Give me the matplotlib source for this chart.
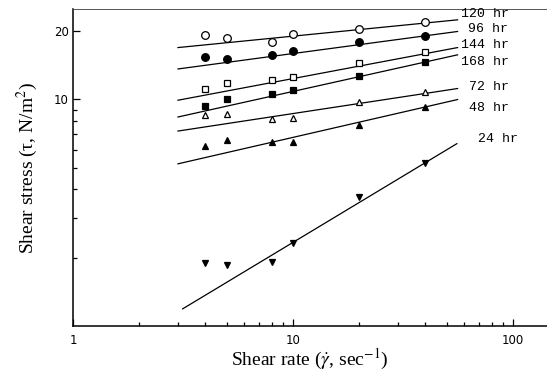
import numpy as np
import matplotlib
matplotlib.use('Agg')
import matplotlib.pyplot as plt
from matplotlib.ticker import FixedLocator, LogLocator, NullFormatter, FixedFormatter

plt.rcParams['mathtext.fontset'] = 'stix'

# shear rate (1/s) for the measured points
shear_rate = [4, 5, 8, 10, 20, 40]

# shear stress (N/m^2) per storage time
stress_120 = [19.2, 18.7, 17.9, 19.3, 20.4, 22.0]
stress_96 = [15.3, 15.0, 15.7, 16.3, 17.9, 19.0]
stress_144 = [11.1, 11.8, 12.2, 12.5, 14.4, 16.1]
stress_168 = [9.3, 10.0, 10.6, 11.0, 12.6, 14.6]
stress_72 = [8.5, 8.6, 8.2, 8.3, 9.7, 10.8]
stress_48 = [6.2, 6.6, 6.5, 6.5, 7.7, 9.2]
stress_24 = [1.9, 1.86, 1.91, 2.32, 3.72, 5.25]

# fitted power-law lines: shear rate range and stress at both ends
fit_rate = [3.0, 56.0]
fit_rate_24 = [3.15, 55.6]
fit_120 = [16.9, 22.4]
fit_96 = [13.6, 19.9]
fit_144 = [9.9, 16.9]
fit_168 = [8.35, 15.7]
fit_72 = [7.24, 11.15]
fit_48 = [5.19, 9.97]
fit_24 = [1.19, 6.37]

labels = ['120 hr', '96 hr', '144 hr', '168 hr', '72 hr', '48 hr', '24 hr']

series = [
    (stress_120, fit_rate, fit_120, 'o', 'white', (37, 4)),
    (stress_96, fit_rate, fit_96, 'o', 'black', (36, 2)),
    (stress_144, fit_rate, fit_144, 's', 'white', (37, 2)),
    (stress_168, fit_rate, fit_168, 's', 'black', (37, -5)),
    (stress_72, fit_rate, fit_72, '^', 'white', (37, 1)),
    (stress_48, fit_rate, fit_48, '^', 'black', (37, -6)),
    (stress_24, fit_rate_24, fit_24, 'v', 'black', (44, 3)),
]
marker_size = {'o': 5.5, 's': 4.5, '^': 4.5, 'v': 4.5}

fig = plt.figure(figsize=(5.47, 3.80), dpi=100)
ax = fig.add_axes([0.1335, 0.1421, 0.8665, 0.8342])
ax.set_xscale('log')
ax.set_yscale('log')

for (stress, frate, fit, mk, fc, off), lab in zip(series, labels):
    ax.plot(frate, fit, '-', color='black', lw=0.9)
    ax.plot(shear_rate, stress, linestyle='none', marker=mk, ms=marker_size[mk],
            mfc=fc, mec='black', mew=0.9)
    ax.annotate(lab, xy=(frate[1], fit[1]), xytext=off, textcoords='offset points',
                ha='right', va='center', fontsize=9.5, family='Liberation Mono')

ax.set_xlim(1, 142.8)
ax.set_ylim(1, 25)

ax.xaxis.set_major_locator(FixedLocator([1, 10, 100]))
ax.xaxis.set_major_formatter(FixedFormatter(['1', '10', '100']))
ax.xaxis.set_minor_locator(LogLocator(base=10, subs=np.arange(2, 10)))
ax.xaxis.set_minor_formatter(NullFormatter())
ax.yaxis.set_major_locator(FixedLocator([10, 20]))
ax.yaxis.set_major_formatter(FixedFormatter(['10', '20']))
ax.yaxis.set_minor_locator(LogLocator(base=10, subs=np.arange(2, 10)))
ax.yaxis.set_minor_formatter(NullFormatter())

ax.tick_params(which='both', direction='in', labelsize=8.5, width=0.9)
ax.tick_params(which='major', length=5)
ax.tick_params(which='minor', length=3)
ax.tick_params(axis='x', pad=6)
ax.tick_params(axis='y', pad=3)

ax.spines['right'].set_visible(False)
ax.spines['top'].set_color('#555555')
ax.spines['top'].set_linewidth(0.7)
ax.spines['left'].set_linewidth(1.1)
ax.spines['bottom'].set_linewidth(1.1)

ax.set_xlabel(r'Shear rate ($\dot{\gamma}$, sec$^{-1}$)', fontsize=14, family='Liberation Serif', labelpad=0)
ax.set_ylabel(r'Shear stress (τ, N/m$^{2}$)', fontsize=14, family='Liberation Serif', labelpad=10)

plt.savefig('out.png', dpi=100)
